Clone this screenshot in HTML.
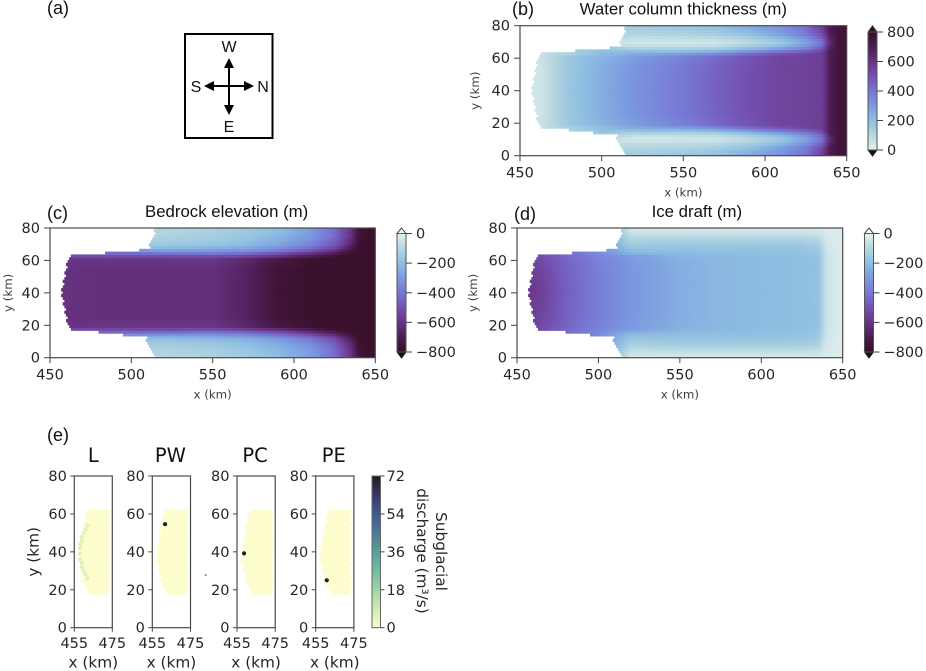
<!DOCTYPE html>
<html>
<head>
<meta charset="utf-8">
<style>
html,body{margin:0;padding:0;background:#fff;}
svg{display:block;filter:blur(0.35px);}
.tick{font:14.5px "DejaVu Sans",sans-serif;fill:#262626;}
.axl{font:11.8px "DejaVu Sans",sans-serif;fill:#404040;}
.big{font:14.5px "DejaVu Sans",sans-serif;fill:#262626;}
.bigt{font:15.3px "DejaVu Sans",sans-serif;fill:#262626;}
.ttl{font:16.8px "Liberation Sans",sans-serif;fill:#111;}
.pl{font:18px "Liberation Sans",sans-serif;fill:#111;}
.cmp{font:16px "Liberation Sans",sans-serif;fill:#111;}
.etl{font:19.5px "DejaVu Sans",sans-serif;fill:#111;}
</style>
</head>
<body>
<svg id="fig" xmlns="http://www.w3.org/2000/svg" width="926" height="671" viewBox="0 0 926 671">
<text class="pl" x="47" y="14">(a)</text>
<text class="pl" x="512" y="15">(b)</text>
<text class="pl" x="47" y="219">(c)</text>
<text class="pl" x="514" y="220">(d)</text>
<text class="pl" x="47" y="441">(e)</text>
<g>
<rect x="185" y="34" width="87.5" height="104" fill="none" stroke="#000" stroke-width="2"/>
<line x1="229" y1="62" x2="229" y2="110" stroke="#000" stroke-width="2"/>
<line x1="210" y1="86" x2="250" y2="86" stroke="#000" stroke-width="2"/>
<polygon points="229,58 224,68 234,68" fill="#000"/>
<polygon points="229,115 224,105 234,105" fill="#000"/>
<polygon points="204,86 214,81 214,91" fill="#000"/>
<polygon points="254,86 244,81 244,91" fill="#000"/>
<text class="cmp" x="229" y="52" text-anchor="middle">W</text>
<text class="cmp" x="196" y="92" text-anchor="middle">S</text>
<text class="cmp" x="263" y="92" text-anchor="middle">N</text>
<text class="cmp" x="229" y="132" text-anchor="middle">E</text>
</g>
<rect x="205" y="574.6" width="1.6" height="1" fill="#222"/>
</svg>
<script>
// ---- data ----
const xKnots = [455,465,480,500,520,550,570,590,610,625,635,640,645,650];
const distFromCentre = [0,15,21,23,25,27,30,35,40];
const frontY = [0,7,12.5,12.6,14.2,14.3,16,16.1,17.7,18,20,25,30,35,40,45,50,55,60,62,62.7,62.75,64.4,64.45,66.2,66.25,70,76,80];
const frontX = [515.5,512,509,496,496,481,481,464,464,463,462,460,459,458,457.5,458,459,460,461.5,463,464,484,484,505,505,511,512,514,515.5];
const waterColumn = [
 [30,60,170,250,320,400,460,510,545,550,560,700,750,760],
 [30,60,165,245,315,395,455,505,545,550,560,700,750,760],
 [30,70,160,230,290,370,430,495,540,550,565,700,750,760],
 [30,70,120,200,250,280,330,420,490,530,580,700,750,760],
 [30,70,120,190,170,170,190,270,360,430,520,700,750,760],
 [30,70,120,150,80,80,90,150,230,330,450,680,750,760],
 [30,70,100,60,40,40,45,80,150,270,400,640,750,760],
 [30,70,100,110,110,120,140,190,290,390,520,700,750,760],
 [30,70,100,130,150,170,200,260,330,420,570,710,750,760]
];
const bedrock = [
 [-610,-610,-620,-620,-620,-620,-670,-760,-780,-780,-780,-780,-780,-780],
 [-610,-610,-620,-620,-620,-620,-670,-755,-780,-780,-780,-780,-780,-780],
 [-600,-600,-590,-590,-590,-590,-640,-720,-770,-780,-780,-780,-780,-780],
 [-500,-500,-500,-500,-500,-490,-520,-580,-680,-760,-780,-780,-780,-780],
 [-400,-400,-400,-400,-380,-370,-400,-470,-570,-680,-770,-780,-780,-780],
 [-240,-240,-240,-240,-240,-250,-280,-340,-440,-560,-720,-780,-780,-780],
 [-160,-160,-160,-160,-160,-180,-210,-270,-360,-480,-650,-770,-780,-780],
 [-120,-120,-120,-120,-120,-140,-170,-220,-300,-430,-600,-760,-780,-780],
 [-100,-100,-100,-100,-100,-120,-150,-200,-290,-420,-600,-750,-780,-780]
];
const iceDraft = [
 [-600,-560,-470,-380,-310,-250,-225,-215,-205,-200,-190,-60,-30,-20],
 [-580,-540,-460,-380,-310,-250,-225,-215,-205,-200,-190,-60,-30,-20],
 [-570,-520,-450,-370,-300,-240,-225,-215,-205,-200,-190,-60,-30,-20],
 [-570,-520,-440,-360,-290,-230,-215,-210,-205,-200,-185,-60,-30,-20],
 [-570,-520,-440,-340,-220,-205,-200,-195,-190,-185,-170,-55,-30,-20],
 [-570,-520,-440,-340,-190,-190,-190,-185,-185,-180,-160,-50,-30,-20],
 [-570,-520,-440,-340,-150,-165,-165,-165,-165,-160,-140,-45,-25,-20],
 [-570,-520,-440,-340,-85,-90,-90,-90,-90,-90,-80,-35,-25,-20],
 [-570,-520,-440,-340,-25,-25,-25,-25,-25,-25,-25,-20,-20,-20]
];
const mainXTicks = [450,500,550,600,650];
const mainYTicks = [0,20,40,60,80];
const waterBarTicks = [0,200,400,600,800];
const depthBarTicks = [0,-200,-400,-600,-800];
const smallXTicks = [455,475];
const dischargeTicks = [0,18,36,54,72];
const lineSourceX = [462,461,460,459,459,458,458,458,458,459,459,460,461,462];
const lineSourceY = [54,52,50,48,46,44,42,39,36,34,32,30,28,26];
const lineSourceQ = [5,5,5,5,5,5,5,5,5,5,5,5,5,5];
const pointSourceNames = ["PW","PC","PE"];
const pointSourceX = [461.7,458.7,460.8];
const pointSourceY = [54.6,39.2,25];
const pointSourceQ = [72,72,72];

// ---- colormaps ----
const denseStops = [[0,230,241,241],[.125,181,215,224],[.25,143,191,225],[.375,123,155,224],[.5,120,119,212],[.625,116,82,178],[.75,104,52,132],[.875,78,28,84],[1,54,14,36]];
const deepStops = [[0,253,253,204],[.125,210,236,180],[.25,160,215,165],[.375,115,190,160],[.5,90,160,155],[.625,75,125,150],[.75,65,90,145],[.875,60,55,110],[1,39,26,44]];
function cmap(st,t){
  t=Math.max(0,Math.min(1,t));
  for(let i=1;i<st.length;i++){
    if(t<=st[i][0]){
      const a=st[i-1],b=st[i],f=(t-a[0])/(b[0]-a[0]);
      return 'rgb('+[1,2,3].map(k=>Math.round(a[k]+(b[k]-a[k])*f)).join(',')+')';
    }
  }
  return 'rgb('+st[st.length-1].slice(1).join(',')+')';
}
const NS='http://www.w3.org/2000/svg';
const fig=document.getElementById('fig');
function mk(tag,attrs,parent,txt){
  const e=document.createElementNS(NS,tag);
  for(const k in attrs)e.setAttribute(k,attrs[k]);
  if(txt!==undefined)e.textContent=txt;
  (parent||fig).appendChild(e);
  return e;
}
function lin(d0,d1,r0,r1){return v=>r0+(v-d0)*(r1-r0)/(d1-d0);}
function idx(arr,v){
  let i=0;
  while(i<arr.length-2&&v>arr[i+1])i++;
  const f=Math.max(0,Math.min(1,(v-arr[i])/(arr[i+1]-arr[i])));
  return [i,f];
}
function front(y){const [i,f]=idx(frontY,y);return frontX[i]+(frontX[i+1]-frontX[i])*f;}
function field(M,x,y){
  const [i,fx]=idx(xKnots,x);
  const [j,fy]=idx(distFromCentre,Math.abs(y-40));
  const a=M[j][i]+(M[j][i+1]-M[j][i])*fx;
  const b=M[j+1][i]+(M[j+1][i+1]-M[j+1][i])*fx;
  return a+(b-a)*fy;
}
function axesFrame(g,L,T,R,B){
  const r=mk('rect',{x:L,y:T,width:R-L,height:B-T,fill:'none',stroke:'#4a4a4a','stroke-width':1.2},g);
  
  
}
function tickX(g,v,sx,B,cls,dy,len){
  const l=mk('line',{x1:sx(v),x2:sx(v),y1:B,y2:B+len,stroke:'#444','stroke-width':1},g);
  
  
  const t=mk('text',{x:sx(v),y:B+dy,'text-anchor':'middle','class':cls},g,String(v));
  
  
}
function tickY(g,v,sy,L,cls,len,gap){
  const l=mk('line',{x1:L-len,x2:L,y1:sy(v),y2:sy(v),stroke:'#444','stroke-width':1},g);
  
  
  const t=mk('text',{x:L-gap,y:sy(v)+5,'text-anchor':'end','class':cls},g,String(v));
  
  
}
// vAtLight / vAtDark: data values mapped to the light and dark ends of the colormap
function mainPanel(name,title,M,vAtLight,vAtDark,L,T,R,B,yLabX,titleDx){
  const g=mk('g',{});
  
  
  const sx=lin(450,650,L,R),sy=lin(0,80,B,T);
  const cid='clip-'+name;
  const cp=mk('clipPath',{id:cid},g);
  mk('rect',{x:L,y:T,width:R-L,height:B-T},cp);
  const cells=mk('g',{'clip-path':'url(#'+cid+')'},g);
  
  
  const dy=1.732,dx=2;
  const w=Math.abs(sx(dx)-sx(0)),h=Math.abs(sy(0)-sy(dy));
  let row=0;
  for(let y=0.3;y<=81;y+=dy,row++){
    const off=row%2?1:0;
    const e=front(y);
    for(let x=450+off;x<=652;x+=dx){
      if(x<e)continue;
      const v=field(M,x,y);
      const r=mk('rect',{x:(sx(x)-w/2-.3).toFixed(2),y:(sy(y)-h/2-.3).toFixed(2),width:(w+.6).toFixed(2),height:(h+.6).toFixed(2),fill:cmap(denseStops,(v-vAtLight)/(vAtDark-vAtLight))},cells);
      
      
    }
  }
  axesFrame(g,L,T,R,B);
  mainXTicks.forEach(v=>tickX(g,v,sx,B,'tick',22,5.5));
  mainYTicks.forEach(v=>tickY(g,v,sy,L,'tick',6,10));
  const t=mk('text',{x:(L+R)/2+titleDx,y:T-11,'text-anchor':'middle','class':'ttl'},g,title);
  
  
  const xl=mk('text',{x:(L+R)/2,y:B+41,'text-anchor':'middle','class':'axl'},g,'x (km)');
  
  
  const yl=mk('text',{x:yLabX,y:(T+B)/2,'text-anchor':'middle','class':'axl',transform:'rotate(-90 '+yLabX+' '+(T+B)/2+')'},g,'y (km)');
  
  
}
function colorbar(name,L,R,T0,B0,tipT,tipB,ticks,vAtLight,vAtDark,topFill){
  const g=mk('g',{});
  
  
  const vTop=Math.max(vAtLight,vAtDark),vBot=Math.min(vAtLight,vAtDark);
  const sc=lin(vBot,vTop,B0,T0);
  const n=80;
  for(let i=0;i<n;i++){
    const y=T0+(B0-T0)*i/n;
    const v=vTop+(vBot-vTop)*(i+.5)/n;
    const r=mk('rect',{x:L,y:y.toFixed(2),width:R-L,height:((B0-T0)/n+.5).toFixed(2),fill:cmap(denseStops,(v-vAtLight)/(vAtDark-vAtLight))},g);
    
    
  }
  const c=(L+R)/2;
  const tp=mk('polygon',{points:L+','+T0+' '+c+','+tipT+' '+R+','+T0,fill:topFill,stroke:'#444','stroke-width':1},g);
  
  
  const bt=mk('polygon',{points:L+','+B0+' '+c+','+tipB+' '+R+','+B0,fill:'#111',stroke:'#222','stroke-width':1},g);
  
  
  const fr=mk('rect',{x:L,y:T0,width:R-L,height:B0-T0,fill:'none',stroke:'#555','stroke-width':1},g);
  
  
  ticks.forEach(v=>{
    const l=mk('line',{x1:R,x2:R+6,y1:sc(v),y2:sc(v),stroke:'#444','stroke-width':1},g);
    
    
    const t=mk('text',{x:R+10,y:sc(v)+5,'class':'tick'},g,String(v).replace('-','\u2212'));
    
    
  });
}
function hexPts(cx,cy,rx,ry){
  const p=[];
  for(let k=0;k<6;k++){
    const a=Math.PI/6+k*Math.PI/3;
    p.push((cx+rx*Math.cos(a)).toFixed(2)+','+(cy+ry*Math.sin(a)).toFixed(2));
  }
  return p.join(' ');
}
function smallPanel(name,L,R,T,B,showY,withLine,dot){
  const g=mk('g',{});
  
  
  const sx=lin(455,475,L,R),sy=lin(0,80,B,T);
  const cid='clip-e-'+name;
  const cp=mk('clipPath',{id:cid},g);
  mk('rect',{x:L,y:T,width:R-L,height:B-T},cp);
  const cells=mk('g',{'clip-path':'url(#'+cid+')'},g);
  
  
  const dy=1.732,dx=2,kx=(R-L)/20,ky=(B-T)/80;
  let row=0;
  for(let y=18.2;y<=63;y+=dy,row++){
    const off=row%2?1:0;
    const e=front(y);
    for(let x=456+off;x<=473.5;x+=dx){
      if(x<e)continue;
      const c=mk('polygon',{points:hexPts(sx(x),sy(y),1.16*kx,1.16*ky),fill:cmap(deepStops,0)},cells);
      
      
    }
  }
  if(withLine){
    lineSourceX.forEach((x,i)=>{
      const c=mk('polygon',{points:hexPts(sx(x),sy(lineSourceY[i]),1.16*kx,1.16*ky),fill:cmap(deepStops,lineSourceQ[i]/72*1.25)},cells);
      
      
    });
  }
  if(dot>=0){
    const c=mk('circle',{cx:sx(pointSourceX[dot]),cy:sy(pointSourceY[dot]),r:2.1,fill:cmap(deepStops,pointSourceQ[dot]/72)},g);
    
    
  }
  axesFrame(g,L,T,R,B);
  smallXTicks.forEach(v=>tickX(g,v,sx,B,'big',20.5,4));
  mainYTicks.forEach(v=>tickY(g,v,sy,L,'big',4,7.5));
  const t=mk('text',{x:(L+R)/2-(name==='L'?0:1),y:T-14,'text-anchor':'middle','class':'etl'},g,name);
  
  
  const xl=mk('text',{x:(L+R)/2,y:B+40,'text-anchor':'middle','class':'bigt'},g,'x (km)');
  
  
  if(showY){
    const yx=L-36;
    const yl=mk('text',{x:yx,y:(T+B)/2,'text-anchor':'middle','class':'bigt',transform:'rotate(-90 '+yx+' '+(T+B)/2+')'},g,'y (km)');
    
    
  }
}

mainPanel('water-column','Water column thickness (m)',waterColumn,0,800,520,25.7,846.7,155.7,479,0);
colorbar('water-colorbar',868,877,32,150,25.7,156,waterBarTicks,0,800,'#2f0f22');
mainPanel('bedrock','Bedrock elevation (m)',bedrock,0,-800,50,228,375.3,357.7,12,14);
colorbar('bedrock-colorbar',397,406,233.5,352,228,358,depthBarTicks,0,-800,'#fff');
mainPanel('ice-draft','Ice draft (m)',iceDraft,0,-800,517,228,842.7,357.7,477,17);
colorbar('draft-colorbar',864.5,873.5,233.5,352,228,358,depthBarTicks,0,-800,'#fff');

smallPanel('L',74.3,112.3,476,627.7,true,true,-1);
pointSourceNames.forEach((n,i)=>{
  const Ls=[152.3,237,315.7];
  smallPanel(n,Ls[i],Ls[i]+38.2,476,627.7,false,false,i);
});

(function(){
  const g=mk('g',{});
  
  
  const T=476,B=627.7,L=372,R=380.5;
  const sc=lin(0,72,B,T);
  const n=80;
  for(let i=0;i<n;i++){
    const y=T+(B-T)*i/n;
    const r=mk('rect',{x:L,y:y.toFixed(2),width:R-L,height:((B-T)/n+.5).toFixed(2),fill:cmap(deepStops,1-i/n)},g);
    
    
  }
  const fr=mk('rect',{x:L,y:T,width:R-L,height:B-T,fill:'none',stroke:'#666','stroke-width':1},g);
  
  
  dischargeTicks.forEach(v=>{
    const l=mk('line',{x1:R,x2:R+4,y1:sc(v),y2:sc(v),stroke:'#444','stroke-width':1},g);
    
    
    const t=mk('text',{x:R+6,y:sc(v)+5,'class':'big'},g,String(v));
    
    
  });
  const a=mk('text',{x:436,y:551.5,'text-anchor':'middle','class':'bigt',transform:'rotate(90 436 551.5)'},g,'Subglacial');
  
  
  const b=mk('text',{x:417,y:551,'text-anchor':'middle','class':'bigt',transform:'rotate(90 417 551)'},g,'discharge (m\u00B3/s)');
  
  
})();
</script>
</body>
</html>
